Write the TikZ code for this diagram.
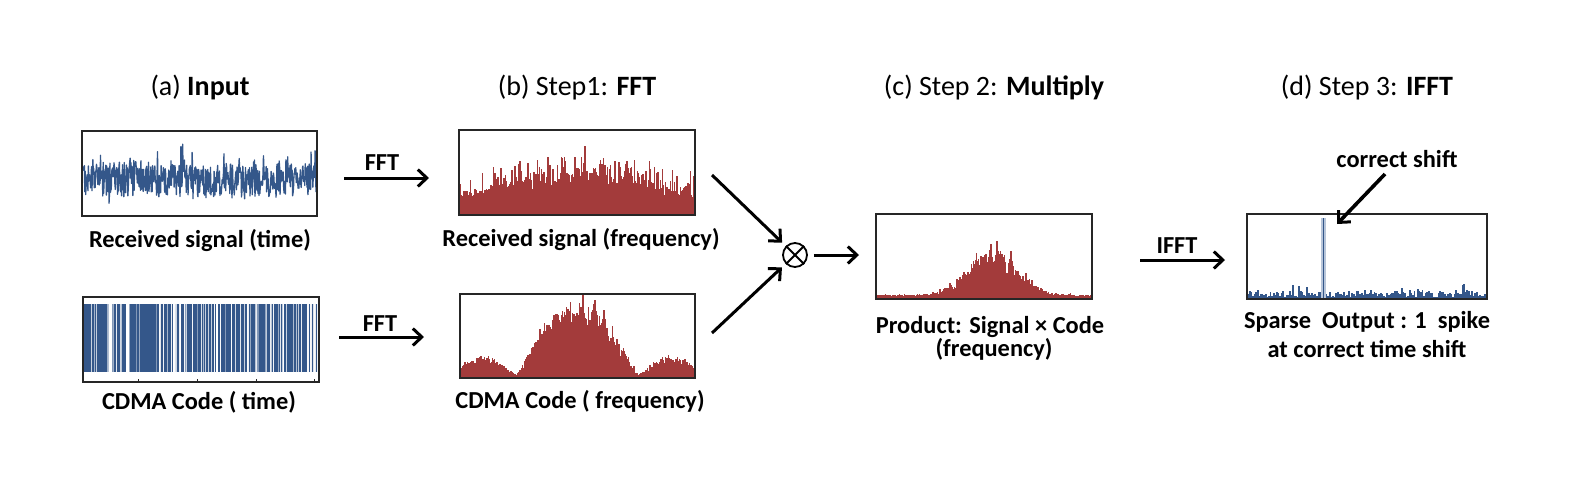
\documentclass[tikz,border=0pt]{standalone}
\usepackage{fontspec}
\setmainfont{Carlito}
\usetikzlibrary{arrows.meta}
\definecolor{sigblue}{HTML}{34578A}
\definecolor{sigred}{HTML}{A33B3B}
\definecolor{spikeblue}{HTML}{B8C6DA}
\begin{document}
\begin{tikzpicture}[x=0.5pt,y=-0.5pt,
  panel/.style={draw=black!85, line width=0.6pt, inner sep=0pt, outer sep=0pt, fill=none},
  lbl/.style={font=\fontsize{12.2}{14}\selectfont\bfseries, anchor=base, inner sep=0pt},
  ttl/.style={font=\fontsize{14}{16}\selectfont, anchor=base, inner sep=0pt},
  flow/.style={line width=1.5pt, -{Straight Barb[length=4.5pt,width=8.5pt,line width=1.5pt]}},
  declare function={
    envb(\t)=16+24*sin(0.7627*(\t-459));
    uc(\t)=(\t-577.5)/61.1;
    envc(\t)=(abs(uc(\t))<1) ? (2+72*cos(90*uc(\t))) : (3+17*abs(sin(163.6*(abs(uc(\t))-1))));
    envp(\t)=4+44*exp(-((\t-993)/34)*((\t-993)/34));
    spk(\t)=max(abs(\t),0.05)^14;
    spks(\t)=max(abs(\t),0.05)^6;
  }]
\useasboundingbox (0,0) rectangle (1591,483);
\fill[white] (0,0) rectangle (1591,483);
\pgfmathsetseed{12345}

% ---------- (a) received signal, time ----------
\begin{scope}
  \clip (82,131) rectangle (317,216);
  \draw[sigblue, line width=0.65pt, line join=round]
    plot[domain=83:316, samples=520] (\x,{181+16*rand+12*rand*rand*rand-26*max(rand,0)^4});
\end{scope}
\node[panel, minimum width=117.5pt, minimum height=42.5pt] (A1) at (199.5,173.5) {};

% ---------- (a) CDMA code, time ----------
\fill[sigblue] (84,304) rectangle (318,372);
\foreach \i in {1,...,85}{
  \pgfmathsetmacro\xx{85+232*rnd}
  \pgfmathsetmacro\ww{0.15+0.9*rnd*rnd}
  \pgfmathsetmacro\oo{0.35+0.65*rnd}
  \draw[white, opacity=\oo, line width=\ww pt] (\xx,304) -- (\xx,372);
}
\fill[white] (109,304) rectangle (112,372);
\fill[white] (126,304) rectangle (128.5,372);
\fill[white] (215.5,304) rectangle (218,372);
\node[panel, minimum width=118pt, minimum height=42.5pt] (A2) at (201,339.5) {};
\foreach \tx in {138,197,256,314} \draw[black!85, line width=0.5pt] (\tx,382) -- (\tx,378.5);

% ---------- (b) received signal, frequency ----------
\begin{scope}
  \clip (459,130) rectangle (695,215);
  \begin{scope}[shift={(0,215)}]
    \draw[sigred, line width=0.65pt]
      plot[ycomb, domain=460:694.5, samples=470] (\x,{-(envb(\x)*(0.85+0.22*rand)+22*spks(rand)+20*spk(rand))});
  \end{scope}
\end{scope}
\node[panel, minimum width=118pt, minimum height=42.5pt] (B1) at (577,172.5) {};

% ---------- (b) CDMA code, frequency ----------
\begin{scope}
  \clip (460,294) rectangle (695,378);
  \begin{scope}[shift={(0,378)}]
    \draw[sigred, line width=0.6pt]
      plot[ycomb, domain=461:694.5, samples=468] (\x,{-(envc(\x)*(0.78+0.24*rand)+0.25*envc(\x)*spks(rand))});
  \end{scope}
\end{scope}
\node[panel, minimum width=117.5pt, minimum height=42pt] (B2) at (577.5,336) {};

% ---------- (c) product ----------
\begin{scope}
  \clip (876,214) rectangle (1092,299);
  \begin{scope}[shift={(0,299)}]
    \draw[sigred, line width=0.6pt]
      plot[ycomb, domain=877:1091.5, samples=430] (\x,{-(envp(\x)*(0.75+0.3*rand)+0.3*envp(\x)*spks(rand))});
  \end{scope}
\end{scope}
\node[panel, minimum width=108pt, minimum height=42.5pt] (C) at (984,256.5) {};

% ---------- (d) sparse output ----------
\begin{scope}
  \clip (1247,214) rectangle (1487,299);
  \begin{scope}[shift={(0,299)}]
    \draw[sigblue, line width=0.9pt]
      plot[ycomb, domain=1248:1486.5, samples=150] (\x,{-(5+3*rand+9*spk(rand))});
  \end{scope}
  \fill[spikeblue] (1321.3,218) rectangle (1325.7,299);
  \draw[sigblue, line width=0.5pt] (1323.5,218) -- (1323.5,299);
\end{scope}
\node[panel, minimum width=120pt, minimum height=42.5pt] (D) at (1367,256.5) {};

% ---------- titles ----------
\node[ttl] (ta) at (200,95) {(a) \textbf{Input}};
\node[ttl] (tb) at (577,95) {(b) Step1: \textbf{FFT}};
\node[ttl] (tc) at (994,95) {(c) Step 2: \textbf{Multiply}};
\node[ttl] (td) at (1367,95) {(d) Step 3: \textbf{IFFT}};

% ---------- labels ----------
\node[lbl] (la1) at (200,247) {Received signal (time)};
\node[lbl] (la2) at (199,409) {CDMA Code ( time)};
\node[lbl] (lb1) at (581,246) {Received signal (frequency)};
\node[lbl] (lb2) at (580,408) {CDMA Code ( frequency)};
\node[lbl] (lc1) at (990,333) {Product: Signal × Code};
\node[lbl] (lc2) at (994,356) {(frequency)};
\node[lbl] (ld1) at (1367,328) {Sparse\ \ Output : 1\ \ spike};
\node[lbl] (ld2) at (1367,357) {at correct time shift};

% ---------- arrows ----------
\coordinate (f1s) at (344,178); \coordinate (f1e) at (429,178);
\draw[flow] (f1s) -- (f1e);
\node[lbl] (fft1) at (382,170) {FFT};
\coordinate (f2s) at (339,337); \coordinate (f2e) at (424,337);
\draw[flow] (f2s) -- (f2e);
\node[lbl] (fft2) at (380,331) {FFT};

\node[circle, draw, line width=0.9pt, minimum size=12pt, inner sep=0pt] (mul) at (795,255) {};
\draw[line width=0.9pt] (mul.north east) -- (mul.south west) (mul.north west) -- (mul.south east);
\coordinate (m1) at (712,175); \coordinate (m2) at (712,333); \coordinate (m3) at (859,255);
\draw[flow, shorten >=2.5pt] (m1) -- (mul);
\draw[flow, shorten >=2.5pt] (m2) -- (mul);
\draw[flow, shorten <=3pt] (mul) -- (m3);

\coordinate (i1s) at (1140,260); \coordinate (i1e) at (1225,260);
\draw[flow] (i1s) -- (i1e);
\node[lbl] (ifft) at (1177,253) {IFFT};

\node[lbl] (cs) at (1397,167) {correct shift};
\coordinate (css) at (1385,174); \coordinate (cse) at (1337,224);
\draw[flow, line width=1.8pt] (css) -- (cse);
\end{tikzpicture}
\end{document}
